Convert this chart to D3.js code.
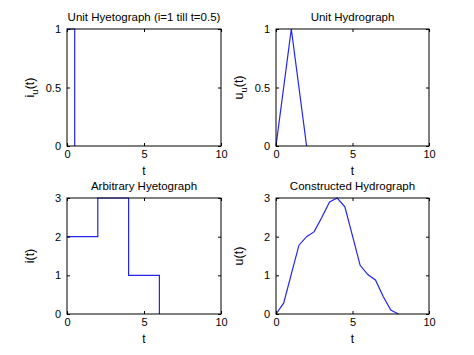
<!DOCTYPE html>
<html><head><meta charset="utf-8">
<script src="https://cdn.jsdelivr.net/npm/d3@7"></script>
<style>
body{margin:0;background:#fff;}
svg{display:block;}
text{font-family:"Liberation Sans",Arial,sans-serif;fill:#000;}
</style></head>
<body>
<svg id="c" width="474" height="355"></svg>
<script>
// ---- data ----
const xTicks = [0, 5, 10];
const unitHyetoT = [0, 0.5, 0.5];
const unitHyetoI = [1, 1, 0];
const unitHydroT = [0, 1, 2];
const unitHydroU = [0, 1, 0];
const arbHyetoT = [0, 2, 2, 4, 4, 6, 6];
const arbHyetoI = [2, 2, 3, 3, 1, 1, 0];
const consT = [0, 0.5, 1, 1.5, 2, 2.5, 3, 3.5, 4, 4.5, 5, 5.5, 6, 6.5, 7, 7.5, 8];
const consU = [0, 0.28, 1.03, 1.78, 2.0, 2.13, 2.5, 2.9, 3.0, 2.77, 2.02, 1.26, 1.02, 0.88, 0.46, 0.1, 0];
const yTicksUnit = [0, 0.5, 1];
const yTicksArb = [0, 1, 2, 3];

const panels = [
  {title:"Unit Hyetograph (i=1 till t=0.5)", yl:["i","u","(t)"], t:unitHyetoT, v:unitHyetoI, ymax:1, yt:yTicksUnit, x0:67, x1:221, y0:29, y1:146},
  {title:"Unit Hydrograph", yl:["u","u","(t)"], t:unitHydroT, v:unitHydroU, ymax:1, yt:yTicksUnit, x0:276, x1:429, y0:29, y1:146},
  {title:"Arbitrary Hyetograph", yl:["i","","(t)"], t:arbHyetoT, v:arbHyetoI, ymax:3, yt:yTicksArb, x0:67, x1:221, y0:198, y1:314},
  {title:"Constructed Hydrograph", yl:["u","","(t)"], t:consT, v:consU, ymax:3, yt:yTicksArb, x0:276, x1:429, y0:198, y1:314}
];

const svg = d3.select("#c");
const fs = 11;
panels.forEach(p => {
  const x = d3.scaleLinear().domain([0,10]).range([p.x0, p.x1]);
  const y = d3.scaleLinear().domain([0,p.ymax]).range([p.y1, p.y0]);
  const g = svg.append("g");
  const line = d3.line().x((d,i)=>x(p.t[i])).y((d,i)=>y(p.v[i]));
  g.append("path").datum(p.t).attr("d", line).attr("fill","none")
    .attr("stroke","#2424f0").attr("stroke-width",1.2);
  const fmt = d => String(d);
  const ax = (gen, tr, labels) => {
    const a = g.append("g").attr("transform", tr).call(gen);
    a.select(".domain").remove();
    a.selectAll("line").attr("stroke","#000");
    a.selectAll("text").attr("font-size", fs).attr("font-family",'"Liberation Sans",Arial,sans-serif');
    if(!labels) a.selectAll("text").remove();
    return a;
  };
  ax(d3.axisBottom(x).tickValues(xTicks).tickFormat(fmt).tickSize(-3).tickPadding(4), `translate(0,${p.y1})`, true);
  ax(d3.axisTop(x).tickValues(xTicks).tickSize(-3), `translate(0,${p.y0})`, false);
  ax(d3.axisLeft(y).tickValues(p.yt).tickFormat(fmt).tickSize(-3).tickPadding(6), `translate(${p.x0},0)`, true);
  ax(d3.axisRight(y).tickValues(p.yt).tickSize(-3), `translate(${p.x1},0)`, false);
  g.append("rect").attr("x",p.x0).attr("y",p.y0).attr("width",p.x1-p.x0).attr("height",p.y1-p.y0)
    .attr("fill","none").attr("stroke","#000").attr("stroke-width",1);
  g.append("text").attr("x",(p.x0+p.x1)/2).attr("y",p.y0-8).attr("text-anchor","middle")
    .attr("font-size",11.5).text(p.title);
  g.append("text").attr("x",(p.x0+p.x1)/2).attr("y",p.y1+29).attr("text-anchor","middle")
    .attr("font-size",12).text("t");
  const yl = g.append("text").attr("transform",`translate(${p.x0-33},${(p.y0+p.y1)/2}) rotate(-90)`)
    .attr("text-anchor","middle").attr("font-size",12.5);
  yl.append("tspan").text(p.yl[0]);
  if(p.yl[1]) yl.append("tspan").attr("font-size",9.5).attr("dy",4).text(p.yl[1]);
  yl.append("tspan").attr("dy",p.yl[1]?-4:0).text(p.yl[2]);
});
</script>
</body></html>
